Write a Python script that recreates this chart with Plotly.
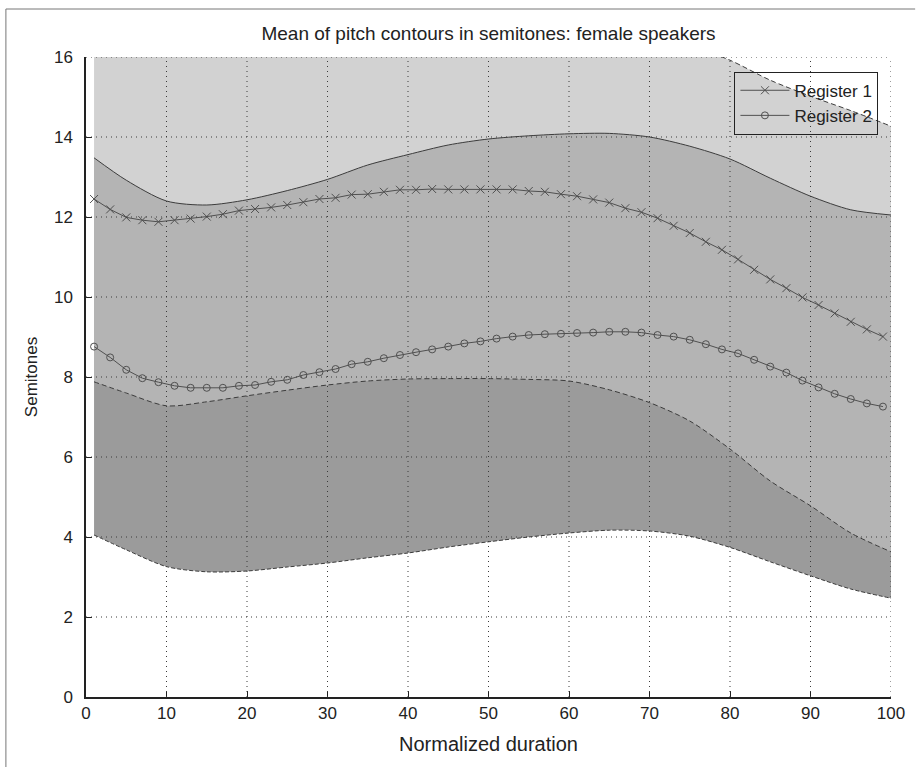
import plotly.graph_objects as go

# Normalized time points at which the mean contours were sampled
duration = [1, 3, 5, 7, 9, 11, 13, 15, 17, 19, 21, 23, 25, 27, 29, 31, 33, 35, 37, 39,
            41, 43, 45, 47, 49, 51, 53, 55, 57, 59, 61, 63, 65, 67, 69, 71, 73, 75, 77, 79,
            81, 83, 85, 87, 89, 91, 93, 95, 97, 99]

# Mean pitch (semitones) for each register
register1_mean = [12.45, 12.19, 11.99, 11.92, 11.88, 11.92, 11.96, 12.01, 12.07, 12.16,
                  12.20, 12.24, 12.30, 12.37, 12.45, 12.48, 12.56, 12.57, 12.63, 12.68,
                  12.68, 12.70, 12.69, 12.69, 12.69, 12.69, 12.69, 12.65, 12.63, 12.57,
                  12.52, 12.44, 12.36, 12.22, 12.12, 11.97, 11.78, 11.60, 11.38, 11.18,
                  10.94, 10.68, 10.44, 10.22, 9.99, 9.80, 9.59, 9.38, 9.19, 9.01]
register2_mean = [8.76, 8.49, 8.18, 7.97, 7.87, 7.78, 7.73, 7.73, 7.73, 7.78,
                  7.80, 7.88, 7.93, 8.05, 8.12, 8.20, 8.32, 8.38, 8.47, 8.55,
                  8.62, 8.69, 8.76, 8.84, 8.89, 8.96, 9.01, 9.05, 9.07, 9.08,
                  9.10, 9.11, 9.13, 9.13, 9.11, 9.05, 9.01, 8.93, 8.82, 8.69,
                  8.59, 8.43, 8.26, 8.11, 7.91, 7.74, 7.58, 7.45, 7.34, 7.26]

# Spread (mean +/- one standard deviation) of each register
band_x = [1, 5, 10, 15, 20, 25, 30, 35, 40, 45, 50, 55, 60, 65, 70, 75, 80, 85, 90, 95, 100]
register1_low = [7.88, 7.60, 7.28, 7.38, 7.53, 7.67, 7.80, 7.90, 7.95, 7.96, 7.96,
                 7.94, 7.90, 7.68, 7.36, 6.90, 6.20, 5.40, 4.78, 4.10, 3.63]
register1_high = [17.02, 16.38, 16.52, 16.64, 16.83, 16.93, 17.12, 17.24, 17.41, 17.42, 17.42,
                  17.36, 17.20, 17.04, 16.74, 16.30, 15.92, 15.42, 15.02, 14.66, 14.27]
register2_low = [4.05, 3.68, 3.26, 3.13, 3.15, 3.25, 3.35, 3.48, 3.60, 3.75, 3.88,
                 4.00, 4.10, 4.17, 4.15, 4.02, 3.74, 3.38, 3.03, 2.70, 2.47]
register2_high = [13.48, 12.92, 12.40, 12.30, 12.43, 12.66, 12.94, 13.30, 13.56, 13.80, 13.95,
                  14.03, 14.08, 14.09, 14.00, 13.77, 13.45, 12.97, 12.52, 12.18, 12.05]

x_ticks = [0, 10, 20, 30, 40, 50, 60, 70, 80, 90, 100]
y_ticks = [0, 2, 4, 6, 8, 10, 12, 14, 16]

FONT = "Liberation Sans, Arial, sans-serif"
INK = "#222222"
EDGE = "#3c3c3c"
MEAN = "#505050"
SPLINE = dict(shape="spline", smoothing=0.8)

fig = go.Figure()

# Register 2 spread: opaque dark band
fig.add_trace(go.Scatter(x=band_x, y=register2_low, mode="lines",
                         line=dict(width=0, **SPLINE),
                         showlegend=False, hoverinfo="skip"))
fig.add_trace(go.Scatter(x=band_x, y=register2_high, mode="lines", fill="tonexty",
                         fillcolor="rgb(155,155,155)",
                         line=dict(width=0, **SPLINE),
                         showlegend=False, hoverinfo="skip"))
# Register 1 spread: translucent light band laid over it
fig.add_trace(go.Scatter(x=band_x, y=register1_low, mode="lines",
                         line=dict(width=0, **SPLINE),
                         showlegend=False, hoverinfo="skip"))
fig.add_trace(go.Scatter(x=band_x, y=register1_high, mode="lines", fill="tonexty",
                         fillcolor="rgba(191,191,191,0.7)",
                         line=dict(width=0, **SPLINE),
                         showlegend=False, hoverinfo="skip"))

# Band outlines
for ys, dash in [(register2_low, "4px,2px"), (register2_high, "solid"),
                 (register1_low, "5px,3px"), (register1_high, "5px,3px")]:
    fig.add_trace(go.Scatter(x=band_x, y=ys, mode="lines",
                             line=dict(color=EDGE, width=1, dash=dash, **SPLINE),
                             showlegend=False, hoverinfo="skip"))

# Mean contours
fig.add_trace(go.Scatter(x=duration, y=register1_mean, mode="lines+markers",
                         name="Register 1",
                         line=dict(color=MEAN, width=1),
                         marker=dict(symbol="x-thin", size=8, color=MEAN,
                                     line=dict(color=MEAN, width=1))))
fig.add_trace(go.Scatter(x=duration, y=register2_mean, mode="lines+markers",
                         name="Register 2",
                         line=dict(color=MEAN, width=1),
                         marker=dict(symbol="circle-open", size=7, color=MEAN,
                                     line=dict(color=MEAN, width=1))))

# Dotted grid drawn on top of the bands
GRID = dict(color="#3a3a3a", width=1, dash="1px,4px")
shapes = []
for t in x_ticks[1:]:
    shapes.append(dict(type="line", xref="x", yref="y", x0=t, x1=t, y0=0, y1=16,
                       line=GRID, layer="above"))
for t in y_ticks[1:]:
    shapes.append(dict(type="line", xref="x", yref="y", x0=0, x1=100, y0=t, y1=t,
                       line=GRID, layer="above"))
# Figure frame
shapes.append(dict(type="line", xref="paper", yref="paper", x0=-0.0995, x1=1.03,
                   y0=1.075, y1=1.075, line=dict(color="#777777", width=1)))
shapes.append(dict(type="line", xref="paper", yref="paper", x0=-0.0995, x1=-0.0995,
                   y0=-0.11, y1=1.075, line=dict(color="#777777", width=1)))

fig.update_layout(
    width=917, height=767, autosize=False,
    margin=dict(l=86, r=21, t=57, b=70),
    paper_bgcolor="white", plot_bgcolor="white",
    font=dict(family=FONT, size=17, color=INK),
    title=dict(text="Mean of pitch contours in semitones: female speakers",
               x=0.5, xref="paper", y=1 - 33 / 767, yref="container",
               xanchor="center", yanchor="middle",
               font=dict(family=FONT, size=19, color=INK)),
    shapes=shapes,
    legend=dict(x=0.8055, y=0.977, xanchor="left", yanchor="top",
                traceorder="normal",
                bgcolor="rgba(0,0,0,0)", bordercolor=INK, borderwidth=1,
                font=dict(family=FONT, size=17, color=INK),
                itemwidth=49, tracegroupgap=0),
    showlegend=True,
)
fig.update_xaxes(range=[0, 100], tickvals=x_ticks, showgrid=False, zeroline=False,
                 showline=True, linecolor=INK, linewidth=1.5, ticks="inside",
                 ticklen=6, tickcolor=INK, layer="above traces",
                 title=dict(text="Normalized duration", standoff=15,
                            font=dict(size=20)),
                 tickfont=dict(size=17))
fig.update_yaxes(range=[0, 16], tickvals=y_ticks, showgrid=False, zeroline=False,
                 showline=True, linecolor=INK, linewidth=1.5, ticks="inside",
                 ticklen=6, tickcolor=INK, layer="above traces",
                 title=dict(text="Semitones", standoff=12, font=dict(size=17)),
                 tickfont=dict(size=17), ticklabelstandoff=8)

fig.write_html("out.html")
